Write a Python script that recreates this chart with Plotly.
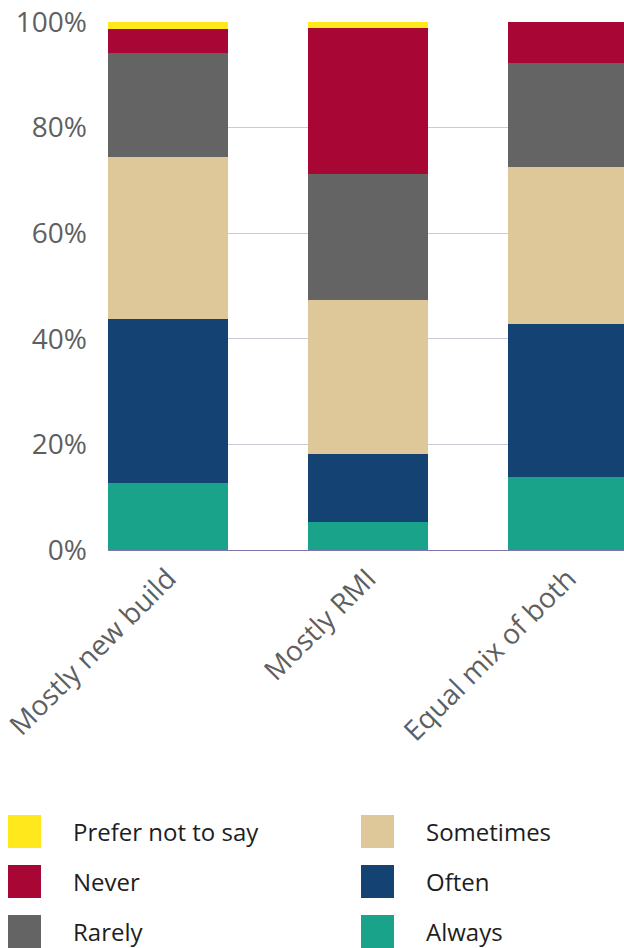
import plotly.graph_objects as go

# Work type categories
categories = ["Mostly new build", "Mostly RMI", "Equal mix of both"]

# Response shares (%) per category, stacked bottom to top
always = [12.7, 5.3, 13.8]
often = [31.1, 12.9, 29.0]
sometimes = [30.7, 29.1, 29.7]
rarely = [19.7, 23.9, 19.8]
never = [4.5, 27.7, 7.7]
prefer_not = [1.3, 1.1, 0.0]

y_ticks = [0, 20, 40, 60, 80, 100]
y_tick_labels = [f"{v}%" for v in y_ticks]

series = [
    ("Always", always, "#19A38B"),
    ("Often", often, "#134273"),
    ("Sometimes", sometimes, "#DEC899"),
    ("Rarely", rarely, "#646464"),
    ("Never", never, "#A80736"),
    ("Prefer not to say", prefer_not, "#FFE81C"),
]
colour_of = {name: col for name, _, col in series}

fig = go.Figure()
for name, vals, col in series:
    fig.add_trace(go.Bar(
        x=list(range(len(categories))), y=vals, name=name,
        marker=dict(color=col, line=dict(width=0)),
        showlegend=False,
    ))

fig.update_layout(
    width=624, height=948,
    margin=dict(l=108, r=0, t=22, b=398),
    barmode="stack", bargap=0.4,
    plot_bgcolor="white", paper_bgcolor="white",
    font=dict(family="Open Sans", color="#5f5f5f"),
    showlegend=False,
)
fig.update_xaxes(
    range=[-0.3, 2.28],
    tickvals=list(range(len(categories))), ticktext=categories,
    tickangle=-45, tickfont=dict(size=28, color="#5f5f5f"),
    showgrid=False, zeroline=False,
    showline=True, linecolor="#8476ad", linewidth=1,
    ticks="",
)
fig.update_yaxes(
    range=[0, 100], tickvals=y_ticks, ticktext=y_tick_labels,
    tickfont=dict(size=28, color="#5f5f5f"),
    showgrid=True, gridcolor="#cbc7dd", gridwidth=1,
    zeroline=False, showline=False, ticks="",
    ticklabelstandoff=20,
)

# Legend drawn as two columns of swatches with labels
legend_cols = [
    ["Prefer not to say", "Never", "Rarely"],
    ["Sometimes", "Often", "Always"],
]
col_x = [8, 361]
row_y = [815, 865, 915]
sw = 33
for ci, names in enumerate(legend_cols):
    for ri, name in enumerate(names):
        x0 = col_x[ci]
        y0 = row_y[ri]
        fig.add_shape(
            type="rect", xref="paper", yref="paper",
            x0=(x0 - 108) / 516, x1=(x0 + sw - 108) / 516,
            y0=(550 - y0 - sw) / 528, y1=(550 - y0) / 528,
            fillcolor=colour_of[name], line=dict(width=0), layer="above",
        )
        fig.add_annotation(
            xref="paper", yref="paper",
            x=(x0 + 63 - 108) / 516, y=(550 - y0 - sw / 2) / 528,
            text=name, showarrow=False, xanchor="left", yanchor="middle",
            font=dict(size=24, color="#1e1e1e", family="Open Sans"),
        )

fig.write_html("out.html")
